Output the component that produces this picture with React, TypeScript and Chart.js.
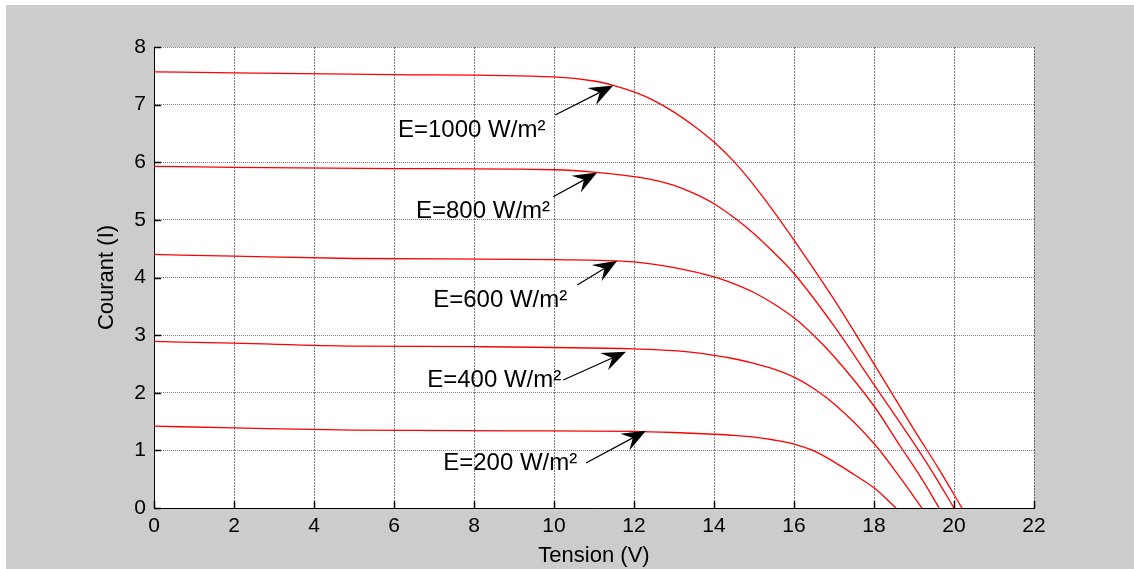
import React, { useEffect, useRef } from "react";
import { Chart, registerables } from "chart.js";
Chart.register(...registerables);

const xTickValues = [0, 2, 4, 6, 8, 10, 12, 14, 16, 18, 20, 22];
const yTickValues = [0, 1, 2, 3, 4, 5, 6, 7, 8];
const xTitle = "Tension (V)";
const yTitle = "Courant (I)";

const v1000 = [0, 2, 6, 10, 11, 11.5, 12, 12.5, 13, 13.5, 14, 14.5, 15, 15.5, 16, 17, 18, 19, 19.6, 20.2];
const i1000 = [7.57, 7.55, 7.52, 7.48, 7.41, 7.33, 7.22, 7.07, 6.87, 6.63, 6.35, 6.01, 5.6, 5.14, 4.65, 3.62, 2.5, 1.36, 0.7, 0];

const v800 = [0, 2, 6, 10, 11, 12, 12.5, 13, 13.5, 14, 14.5, 15, 15.5, 16, 17, 18, 19, 19.5, 20.0];
const i800 = [5.93, 5.91, 5.89, 5.87, 5.83, 5.75, 5.69, 5.6, 5.46, 5.28, 5.04, 4.76, 4.43, 4.07, 3.16, 2.14, 1.12, 0.58, 0];

const v600 = [0, 2, 5, 10, 12, 13, 14, 14.5, 15, 15.5, 16, 16.5, 17, 18, 18.65, 19.2, 19.63];
const i600 = [4.4, 4.37, 4.33, 4.31, 4.27, 4.17, 4.01, 3.89, 3.74, 3.54, 3.3, 2.99, 2.63, 1.77, 1.08, 0.5, 0];

const v400 = [0, 2, 5, 8, 12, 13, 14, 14.5, 15, 15.5, 16, 16.5, 17, 18, 18.6, 19.2];
const i400 = [2.89, 2.86, 2.81, 2.8, 2.76, 2.73, 2.65, 2.59, 2.51, 2.41, 2.27, 2.07, 1.81, 1.12, 0.58, 0];

const v200 = [0, 2, 5, 9, 12, 13, 14, 14.5, 15, 15.5, 16, 16.5, 17, 17.5, 18, 18.55];
const i200 = [1.42, 1.39, 1.35, 1.34, 1.33, 1.31, 1.28, 1.26, 1.23, 1.18, 1.11, 0.99, 0.8, 0.58, 0.35, 0];

const seriesLabels = ["E=1000 W/m²", "E=800 W/m²", "E=600 W/m²", "E=400 W/m²", "E=200 W/m²"];
const seriesV = [v1000, v800, v600, v400, v200];
const seriesI = [i1000, i800, i600, i400, i200];

const labelTextV = [6.1, 6.55, 6.98, 6.83, 7.23];
const labelTextI = [6.56, 5.14, 3.61, 2.22, 0.78];
const arrowTailV = [10.03, 9.98, 10.58, 10.23, 10.8];
const arrowTailI = [6.82, 5.4, 3.87, 2.22, 0.78];
const arrowTipV = [11.48, 11.08, 11.58, 11.8, 12.3];
const arrowTipI = [7.33, 5.82, 4.29, 2.71, 1.34];

const FONT = "'Liberation Sans', Arial, Helvetica, sans-serif";

const plotBgPlugin = {
  id: "plotBg",
  beforeDraw(chart: any) {
    const { ctx, chartArea } = chart;
    ctx.save();
    ctx.fillStyle = "#ffffff";
    ctx.fillRect(chartArea.left, chartArea.top, chartArea.right - chartArea.left, chartArea.bottom - chartArea.top);
    ctx.restore();
  },
};

const innerTicksPlugin = {
  id: "innerTicks",
  afterDatasetsDraw(chart: any) {
    const { ctx, chartArea, scales } = chart;
    ctx.save();
    ctx.strokeStyle = "#000";
    ctx.lineWidth = 1.5;
    ctx.beginPath();
    for (const v of xTickValues) {
      const px = Math.round(scales.x.getPixelForValue(v)) + 0.5;
      ctx.moveTo(px, chartArea.bottom);
      ctx.lineTo(px, chartArea.bottom - 7);
    }
    for (const v of yTickValues) {
      const py = Math.round(scales.y.getPixelForValue(v)) + 0.5;
      ctx.moveTo(chartArea.left, py);
      ctx.lineTo(chartArea.left + 7, py);
    }
    ctx.stroke();
    ctx.restore();
  },
};

const annotationPlugin = {
  id: "irradianceLabels",
  afterDatasetsDraw(chart: any) {
    const { ctx, scales } = chart;
    const xs = scales.x;
    const ys = scales.y;
    ctx.save();
    ctx.fillStyle = "#000";
    ctx.strokeStyle = "#000";
    ctx.font = `24px ${FONT}`;
    ctx.textAlign = "left";
    ctx.textBaseline = "middle";
    for (let k = 0; k < seriesLabels.length; k++) {
      ctx.fillText(seriesLabels[k], xs.getPixelForValue(labelTextV[k]), ys.getPixelForValue(labelTextI[k]));
      const tx = xs.getPixelForValue(arrowTailV[k]);
      const ty = ys.getPixelForValue(arrowTailI[k]);
      const hx = xs.getPixelForValue(arrowTipV[k]);
      const hy = ys.getPixelForValue(arrowTipI[k]);
      const ang = Math.atan2(hy - ty, hx - tx);
      const ca = Math.cos(ang);
      const sa = Math.sin(ang);
      const L = 24;
      const W = 9.5;
      const N = 15;
      const nx = hx - N * ca;
      const ny = hy - N * sa;
      ctx.lineWidth = 1.2;
      ctx.beginPath();
      ctx.moveTo(tx, ty);
      ctx.lineTo(nx, ny);
      ctx.stroke();
      ctx.beginPath();
      ctx.moveTo(hx, hy);
      ctx.lineTo(hx - L * ca - W * sa, hy - L * sa + W * ca);
      ctx.lineTo(nx, ny);
      ctx.lineTo(hx - L * ca + W * sa, hy - L * sa - W * ca);
      ctx.closePath();
      ctx.fill();
    }
    ctx.restore();
  },
};

export default function App() {
  const ref = useRef<HTMLCanvasElement>(null);
  useEffect(() => {
    const datasets = seriesLabels.map((label, k) => ({
      label,
      data: seriesV[k].map((v, j) => ({ x: v, y: seriesI[k][j] })),
      borderColor: "#ff0000",
      backgroundColor: "#ff0000",
      borderWidth: 1.3,
      pointRadius: 0,
      showLine: true,
      fill: false,
      cubicInterpolationMode: "monotone" as const,
    }));
    const chart = new Chart(ref.current as HTMLCanvasElement, {
      type: "line",
      data: { datasets },
      plugins: [plotBgPlugin, innerTicksPlugin, annotationPlugin],
      options: {
        animation: false,
        responsive: false,
        devicePixelRatio: 1,
        layout: { padding: { top: 47, right: 100, left: 0, bottom: 0 } },
        plugins: { legend: { display: false }, tooltip: { enabled: false } },
        scales: {
          x: {
            type: "linear",
            min: 0,
            max: 22,
            afterFit: (s: any) => {
              s.height = 61;
            },
            afterBuildTicks: (s: any) => {
              s.ticks = xTickValues.map((v) => ({ value: v }));
            },
            ticks: { color: "#000", font: { family: FONT, size: 21 }, padding: 6, maxRotation: 0, autoSkip: false },
            grid: { color: "rgba(0,0,0,0.5)", drawTicks: false, lineWidth: 1 },
            border: { display: true, color: "#000", width: 1, dash: [2, 1] },
            title: { display: true, text: xTitle, color: "#000", font: { family: FONT, size: 22 }, padding: { top: 0, bottom: 0 } },
          },
          y: {
            type: "linear",
            min: 0,
            max: 8,
            afterFit: (s: any) => {
              s.width = 154;
            },
            afterBuildTicks: (s: any) => {
              s.ticks = yTickValues.map((v) => ({ value: v }));
            },
            ticks: { color: "#000", font: { family: FONT, size: 21 }, padding: 8 },
            grid: { color: "rgba(0,0,0,0.5)", drawTicks: false, lineWidth: 1 },
            border: { display: true, color: "#000", width: 1, dash: [1, 1] },
            title: { display: true, text: yTitle, color: "#000", font: { family: FONT, size: 22 }, padding: { top: 94, bottom: 0 } },
          },
        },
      },
    } as any);
    return () => chart.destroy();
  }, []);
  return (
    <div style={{ position: "fixed", left: 0, top: 0, width: 1134, height: 569, background: "#ffffff" }}>
      <div style={{ position: "absolute", left: 6, top: 5, width: 1128, height: 564, background: "#cccccc" }} />
      <canvas ref={ref} width={1134} height={569} style={{ position: "absolute", left: 0, top: 0, width: 1134, height: 569 }} />
    </div>
  );
}
